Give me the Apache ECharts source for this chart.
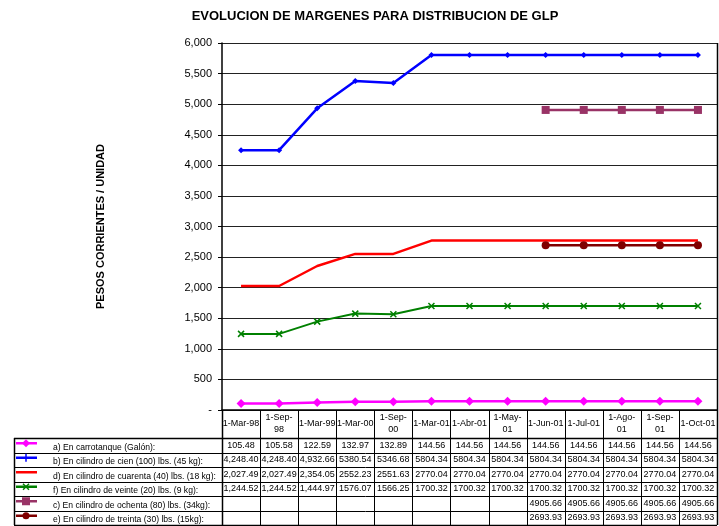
<!DOCTYPE html>
<html><head><meta charset="utf-8">
<script src="https://cdn.jsdelivr.net/npm/echarts@6/dist/echarts.min.js"></script>
<style>html,body{margin:0;padding:0;background:#fff}#c{width:719px;height:526px}</style>
</head><body><div id="c"></div>
<script>
const categories = ["1-Mar-98","1-Sep-98","1-Mar-99","1-Mar-00","1-Sep-00","1-Mar-01","1-Abr-01","1-May-01","1-Jun-01","1-Jul-01","1-Ago-01","1-Sep-01","1-Oct-01"];
const xTickLabels = ["1-Mar-98","1-Sep-\n98","1-Mar-99","1-Mar-00","1-Sep-\n00","1-Mar-01","1-Abr-01","1-May-\n01","1-Jun-01","1-Jul-01","1-Ago-\n01","1-Sep-\n01","1-Oct-01"];
const yTicks = [0,500,1000,1500,2000,2500,3000,3500,4000,4500,5000,5500,6000];
const seriesNames = ["a) En carrotanque (Galón):","b) En cilindro de cien (100) lbs. (45 kg):","d) En cilindro de cuarenta (40) lbs. (18 kg):","f) En cilindro de veinte (20) lbs. (9 kg):","c) En cilindro de ochenta (80) lbs. (34kg):","e) En cilindro de treinta (30) lbs. (15kg):"];
const carrotanque = [105.48,105.58,122.59,132.97,132.89,144.56,144.56,144.56,144.56,144.56,144.56,144.56,144.56];
const cien = [4248.40,4248.40,4932.66,5380.54,5346.68,5804.34,5804.34,5804.34,5804.34,5804.34,5804.34,5804.34,5804.34];
const cuarenta = [2027.49,2027.49,2354.05,2552.23,2551.63,2770.04,2770.04,2770.04,2770.04,2770.04,2770.04,2770.04,2770.04];
const veinte = [1244.52,1244.52,1444.97,1576.07,1566.25,1700.32,1700.32,1700.32,1700.32,1700.32,1700.32,1700.32,1700.32];
const ochenta = [null,null,null,null,null,null,null,null,4905.66,4905.66,4905.66,4905.66,4905.66];
const treinta = [null,null,null,null,null,null,null,null,2693.93,2693.93,2693.93,2693.93,2693.93];
// columns whose table values are shown with thousands separators
const commaColumns = [true,true,true,false,false,false,false,false,false,false,false,false,false];

const FONT = '"Liberation Sans", Arial, sans-serif';
const colors = ['#FF00FF','#0000FF','#FF0000','#008000','#993366','#800000'];
const dataSets = [carrotanque, cien, cuarenta, veinte, ochenta, treinta];
const xPath = 'path://M0,0L10,10M10,0L0,10';
const symbols = ['diamond','diamond','none',xPath,'rect','circle'];
const symSizes = [9,6,0,6,8,8];
const widths = [2.5,2.5,2.5,2,2.5,2.5];

const chart = echarts.init(document.getElementById('c'), null, {renderer:'canvas'});
const plotTop = 43, bottomY = 410, leftX = 222, rightX = 717;
chart.setOption({
  animation:false,
  title:{text:'EVOLUCION DE MARGENES PARA DISTRIBUCION DE GLP', left:370, textAlign:'center', top:5,
    textStyle:{fontFamily:FONT, fontSize:13, fontWeight:'bold', color:'#000'}},
  grid:{left:leftX, right:719-rightX, top:plotTop, bottom:526-bottomY},
  xAxis:{type:'category', data:categories, boundaryGap:true,
    axisLine:{lineStyle:{color:'#000',width:1.5}}, axisTick:{show:false},
    axisLabel:{interval:0, fontFamily:FONT, fontSize:9, color:'#000', margin:14, verticalAlign:'middle', lineHeight:12,
      formatter:(v,i)=>xTickLabels[i]}},
  yAxis:{type:'value', min:0, max:6000, interval:500,
    name:'PESOS CORRIENTES / UNIDAD', nameLocation:'middle', nameRotate:90, nameGap:116,
    nameTextStyle:{fontFamily:FONT, fontSize:11, fontWeight:'bold', color:'#000'},
    axisLine:{show:true, lineStyle:{color:'#000',width:1.5}}, axisTick:{show:true, length:4, lineStyle:{color:'#000'}},
    axisLabel:{fontFamily:FONT, fontSize:11, color:'#000', margin:10,
      formatter:v=> v===0 ? '-' : v.toLocaleString('en-US')},
    splitLine:{lineStyle:{color:'#222',width:1}}},
  series: dataSets.map((d,k)=>({
    type:'line', name:seriesNames[k], data:d, connectNulls:false,
    symbol:symbols[k], symbolSize:symSizes[k], showSymbol:symbols[k]!=='none',
    lineStyle:{color:colors[k], width:widths[k]},
    itemStyle:{color:colors[k], borderColor:colors[k], borderWidth:k===3?1.5:0},
    z: k===2?2:3
  }))
});

function fmt(v,col){
  if(v===null) return '';
  if(commaColumns[col]) return v.toLocaleString('en-US',{minimumFractionDigits:2,maximumFractionDigits:2});
  return v.toFixed(2);
}
const c0 = chart.convertToPixel({xAxisIndex:0},0);
const c1 = chart.convertToPixel({xAxisIndex:0},1);
const half = (c1-c0)/2;
const headerBottom = 438;
const rowH = 14.5;
const tableLeft = 14;
const g = [];
const line = (x1,y1,x2,y2,w)=>g.push({type:'line',shape:{x1,y1,x2,y2},style:{stroke:'#000',lineWidth:w||1},silent:true});
for(let i=0;i<=categories.length;i++){
  const x = Math.round(chart.convertToPixel({xAxisIndex:0},Math.min(i,categories.length-1)) + (i<categories.length?-half:half))+0.5;
  line(x, bottomY, x, headerBottom+rowH*seriesNames.length, (i===0||i===categories.length)?1.5:1);
}
line(rightX+0.5, plotTop, rightX+0.5, bottomY, 1.5);
for(let r=0;r<=seriesNames.length;r++){
  const y = Math.round(headerBottom + r*rowH)+0.5;
  line(tableLeft, y, rightX, y, r===0||r===seriesNames.length?1.5:1);
}
line(tableLeft+0.5, headerBottom, tableLeft+0.5, headerBottom+rowH*seriesNames.length, 1.5);
seriesNames.forEach((name,k)=>{
  const yc = headerBottom + k*rowH + rowH/2;
  g.push({type:'line',shape:{x1:16,y1:yc-2,x2:37,y2:yc-2},style:{stroke:colors[k],lineWidth:2.5},silent:true});
  g.push({type:'text',x:53,y:yc+2,style:{text:name,fontFamily:FONT,fontSize:8.6,fill:'#000',verticalAlign:'middle'},silent:true});
  dataSets[k].forEach((v,i)=>{
    const xc = chart.convertToPixel({xAxisIndex:0},i);
    g.push({type:'text',x:xc,y:yc,style:{text:fmt(v,i),fontFamily:FONT,fontSize:9,fill:'#000',align:'center',verticalAlign:'middle'},silent:true});
  });
});
const mk = [
  {type:'polygon',shape:{points:[[26,-4],[30,0],[26,4],[22,0]]}},
  {type:'line',shape:{x1:26,y1:-4,x2:26,y2:4}},
  null,
  {type:'polyline',shape:{points:[[23,-3],[29,3]]}},
  {type:'rect',shape:{x:22,y:-4,width:8,height:8}},
  {type:'circle',shape:{cx:26,cy:0,r:3.5}}
];
mk.forEach((m,k)=>{
  if(!m) return;
  const yc = headerBottom + k*rowH + rowH/2 - 2;
  m.y = yc; m.silent = true;
  m.style = (m.type==='line'||m.type==='polyline') ? {stroke:colors[k],lineWidth:1.5} : {fill:colors[k]};
  g.push(m);
  if(k===3) g.push({type:'polyline',y:yc,shape:{points:[[29,-3],[23,3]]},style:{stroke:colors[k],lineWidth:1.5},silent:true});
});
chart.setOption({graphic:g});
</script>
</body></html>
